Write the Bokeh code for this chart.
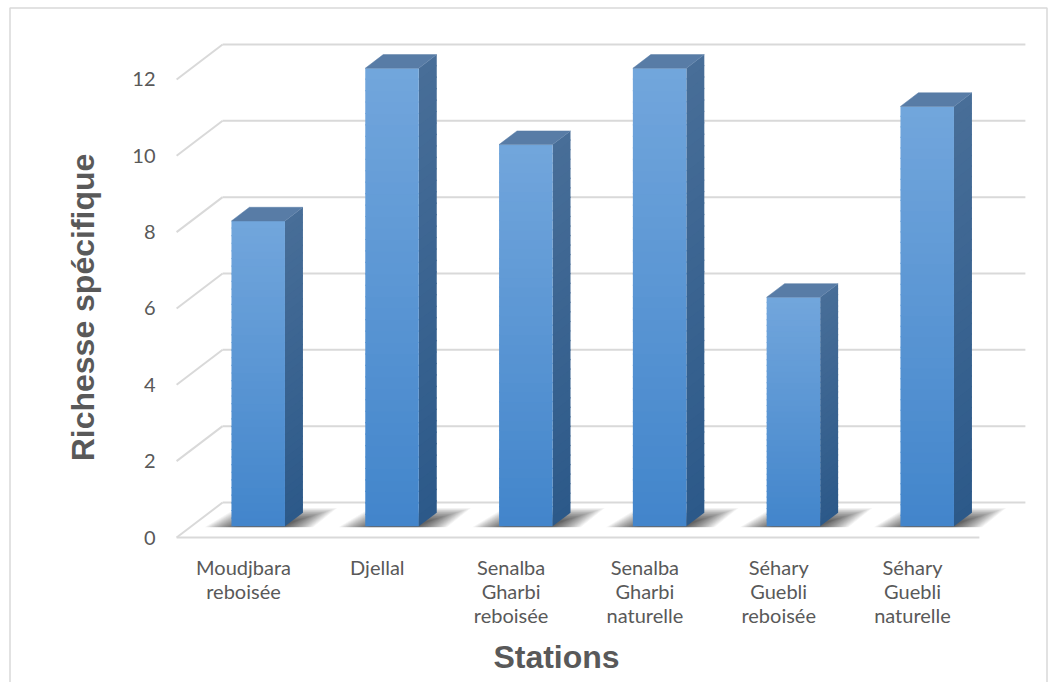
import numpy as np
from bokeh.plotting import figure
from bokeh.models import Range1d
from bokeh.core.properties import value
from bokeh.embed import file_html
from bokeh.resources import INLINE

# ---- data -------------------------------------------------------------
stations = [
    "Moudjbara reboisée",
    "Djellal",
    "Senalba Gharbi reboisée",
    "Senalba Gharbi naturelle",
    "Séhary Guebli reboisée",
    "Séhary Guebli naturelle",
]
richesse = [8, 12, 10, 12, 6, 11]
y_ticks = [0, 2, 4, 6, 8, 10, 12]
y_title = "Richesse spécifique"
x_title = "Stations"

# ---- layout of the oblique 3-D box ------------------------------------
W, H = 1056, 682
X0_PX, X_STEP = 243.0, 133.8     # pixel of first category centre, pixels per category
Y0_PX, Y_STEP = 537.0, 38.17     # pixel of value 0 on the front plane, pixels per unit
DEPTH_X_PX, DEPTH_Y_PX = 46.0, 35.0

DX = DEPTH_X_PX / X_STEP          # depth offset in category units
DV = DEPTH_Y_PX / Y_STEP          # depth offset in value units
BAR_W = 0.4
D0, D1 = 0.32, 0.71               # depth span occupied by the bars

GRID = "#d9d9d9"
TEXT = "#595959"
FRONT_TOP, FRONT_BOT = (114, 166, 220), (66, 133, 203)
SIDE_TOP, SIDE_BOT = (72, 110, 152), (44, 89, 137)
TOP_FACE = "#587ca6"


def px(xp):
    return (xp - X0_PX) / X_STEP


def py(yp):
    return (Y0_PX - yp) / Y_STEP


def mix(a, b, t):
    c = [int(round(a[j] + (b[j] - a[j]) * t)) for j in range(3)]
    return "#%02x%02x%02x" % tuple(c)


p = figure(
    width=W, height=H,
    x_range=Range1d(px(0), px(W)),
    y_range=Range1d(py(H), py(0)),
    output_backend="svg", toolbar_location=None,
    x_axis_location=None, y_axis_location=None,
    min_border=0, outline_line_color=None,
    background_fill_color="white", border_fill_color="white",
)
p.xgrid.visible = False
p.ygrid.visible = False

# chart border
p.multi_line(
    xs=[[px(9.5), px(9.5), px(1046.5), px(1046.5)]],
    ys=[[py(700), py(7.5), py(7.5), py(700)]],
    line_color=GRID, line_width=1.5,
)

# back wall gridlines
p.multi_line(
    xs=[[-0.5 + DX, 5.5 + DX] for _ in y_ticks],
    ys=[[t + DV, t + DV] for t in y_ticks],
    line_color=GRID, line_width=2,
)
# side wall gridlines
p.multi_line(
    xs=[[-0.5, -0.5 + DX] for _ in y_ticks],
    ys=[[t, t + DV] for t in y_ticks],
    line_color=GRID, line_width=2,
)
# front edge of the floor
p.line(x=[-0.5, 5.5], y=[0, 0], line_color=GRID, line_width=2)

# soft floor shadows cast behind each bar (stacked translucent layers)
n_layers = 20
SH_DF, SH_DB = 0.29, 0.84
for i in range(len(richesse)):
    left_f = i - BAR_W / 2 + SH_DF * DX
    right_f = i + BAR_W / 2 + SH_DF * DX
    xs, ys = [], []
    for k in range(n_layers):
        db = SH_DB - 0.019 * k
        fl = left_f - 0.19 + 0.012 * k
        fr = right_f + 0.22 - 0.012 * k
        br = right_f + 0.40 - 0.016 * k
        bl = left_f + 0.05 + 0.006 * k
        xs.append([fl, fr, br, bl])
        ys.append([SH_DF * DV, SH_DF * DV, db * DV, db * DV])
    p.patches(xs=xs, ys=ys, fill_color="black", fill_alpha=0.045, line_color=None)

# bars: side face, front face and top face, shaded in overlapping strips
N = 40
f_l, f_r, f_b, f_t, f_c = [], [], [], [], []
s_x, s_y, s_c = [], [], []
t_x, t_y = [], []
ddx, ddv = (D1 - D0) * DX, (D1 - D0) * DV
for i, v in enumerate(richesse):
    xl = i - BAR_W / 2 + D0 * DX
    xr = i + BAR_W / 2 + D0 * DX
    base = D0 * DV
    for k in range(N):
        v0 = base + v * k / N
        v1 = base + v * (k + 1) / N
        v1o = v1 + (0.03 if k < N - 1 else 0.0)
        t = (k + 0.5) / N
        f_l.append(xl); f_r.append(xr); f_b.append(v0); f_t.append(v1o)
        f_c.append(mix(FRONT_BOT, FRONT_TOP, t))
        s_x.append([xr, xr + ddx, xr + ddx, xr])
        s_y.append([v0, v0 + ddv, v1o + ddv, v1o])
        s_c.append(mix(SIDE_BOT, SIDE_TOP, t))
    top = base + v
    t_x.append([xl, xr, xr + ddx, xl + ddx])
    t_y.append([top, top, top + ddv, top + ddv])

p.patches(xs=s_x, ys=s_y, fill_color=s_c, line_color=None)
p.quad(left=f_l, right=f_r, bottom=f_b, top=f_t, fill_color=f_c, line_color=None)
p.patches(xs=t_x, ys=t_y, fill_color=TOP_FACE, line_color=TOP_FACE, line_width=0.5)

# value tick labels on the front plane
p.text(
    x=[px(155)] * len(y_ticks), y=y_ticks, text=[str(t) for t in y_ticks],
    text_font=value("Lato"), text_font_size="20px", text_color=TEXT,
    text_align="right", text_baseline="middle",
)

# category labels, one word per line
LINE_PX = 24.0
lx, ly, lt = [], [], []
for i, name in enumerate(stations):
    for k, word in enumerate(name.split(" ")):
        lx.append(i)
        ly.append(py(566 + LINE_PX * k))
        lt.append(word)
p.text(
    x=lx, y=ly, text=lt,
    text_font=value("Lato"), text_font_size="20px", text_color=TEXT,
    text_align="center", text_baseline="middle",
)

# axis titles
p.text(
    x=[px(82)], y=[py(307)], text=[y_title], angle=np.pi / 2,
    text_font=value("Liberation Sans"), text_font_style="bold",
    text_font_size="32px", text_color=TEXT,
    text_align="center", text_baseline="middle",
)
p.text(
    x=[px(556)], y=[py(656)], text=[x_title],
    text_font=value("Liberation Sans"), text_font_style="bold",
    text_font_size="32px", text_color=TEXT,
    text_align="center", text_baseline="middle",
)

open("out.html", "w").write(file_html(p, INLINE))
